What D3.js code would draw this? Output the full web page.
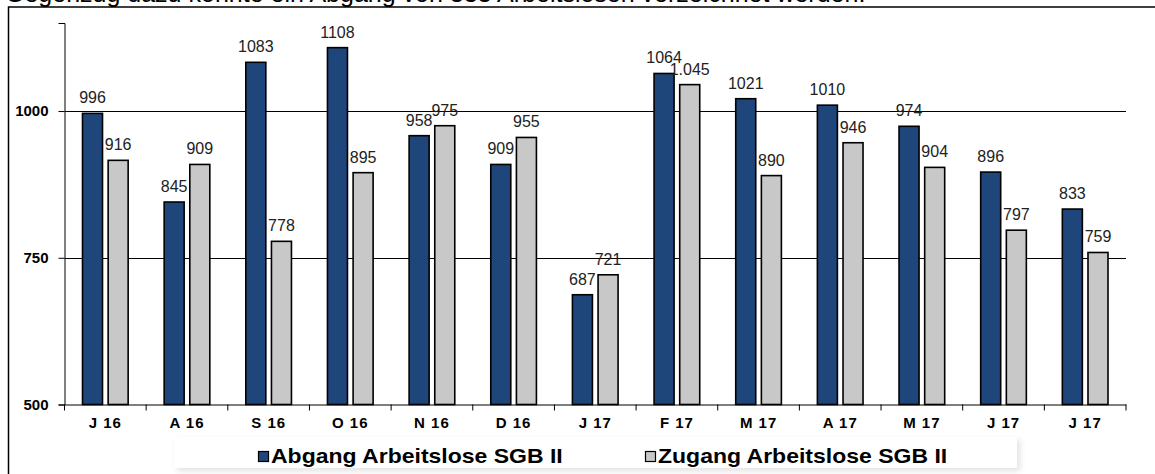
<!DOCTYPE html>
<html>
<head>
<meta charset="utf-8">
<script src="https://cdn.jsdelivr.net/npm/d3@7"></script>
<style>
  body { margin: 0; background: #fff; }
  svg { display: block; font-family: Arial, "Liberation Sans", sans-serif; }
</style>
</head>
<body>
<svg id="chart" width="1155" height="474"></svg>
<script>
// months Jul 16 .. Jul 17
const categories = ["J 16", "A 16", "S 16", "O 16", "N 16", "D 16", "J 17", "F 17", "M 17", "A 17", "M 17", "J 17", "J 17"];
const abgang = [996, 845, 1083, 1108, 958, 909, 687, 1064, 1021, 1010, 974, 896, 833];
const zugang = [916, 909, 778, 895, 975, 955, 721, 1045, 890, 946, 904, 797, 759];
const zugangLabels = ["916", "909", "778", "895", "975", "955", "721", "1.045", "890", "946", "904", "797", "759"];
const yTicks = [500, 750, 1000];
const seriesNames = ["Abgang Arbeitslose SGB II", "Zugang Arbeitslose SGB II"];
const headline = "Gegenzug dazu konnte ein Abgang von 333 Arbeitslosen verzeichnet werden.";

const blue = "#1f467b";
const grey = "#c8c8c8";
const font = "Arial, 'Liberation Sans', sans-serif";

const svg = d3.select("#chart");

// text cut at the top of the picture
svg.append("text")
  .attr("x", 5)
  .attr("y", 2)
  .attr("font-size", 25)
  .attr("fill", "#000")
  .text(headline);

// outer frame
svg.append("rect")
  .attr("x", 8.5).attr("y", 7)
  .attr("width", 1160).attr("height", 480)
  .attr("fill", "#fff")
  .attr("stroke", "#000")
  .attr("stroke-width", 1.5);

const x = d3.scaleBand()
  .domain(d3.range(categories.length))
  .range([64.5, 1126])
  .paddingInner(0).paddingOuter(0);

const inner = d3.scaleBand()
  .domain([0, 1])
  .range([18, x.bandwidth() - 18])
  .paddingInner(0.22);

const y = d3.scaleLinear()
  .domain([500, 1150])
  .range([404.5, 23]);

// gridlines
svg.append("g")
  .selectAll("line")
  .data(yTicks.slice(1))
  .join("line")
  .attr("x1", 64.5).attr("x2", 1126)
  .attr("y1", d => Math.round(y(d)) + 0.5)
  .attr("y2", d => Math.round(y(d)) + 0.5)
  .attr("stroke", "#000")
  .attr("stroke-width", 1);

// y axis
const yAxis = svg.append("g")
  .attr("transform", "translate(64.5,0)")
  .call(d3.axisLeft(y).tickValues(yTicks).tickFormat(d3.format("d")).tickSize(6).tickPadding(10));
yAxis.select(".domain").attr("stroke", "#000");
yAxis.selectAll("text")
  .attr("font-size", 15).attr("font-weight", "bold").attr("fill", "#000")
  .attr("font-family", font);

// bars
const groups = svg.append("g")
  .selectAll("g")
  .data(categories)
  .join("g")
  .attr("transform", (d, i) => "translate(" + x(i) + ",0)");

groups.append("rect")
  .attr("x", inner(0))
  .attr("y", (d, i) => y(abgang[i]))
  .attr("width", inner.bandwidth())
  .attr("height", (d, i) => y(500) - y(abgang[i]))
  .attr("fill", blue)
  .attr("stroke", "#000")
  .attr("stroke-width", 1.6);

groups.append("rect")
  .attr("x", inner(1))
  .attr("y", (d, i) => y(zugang[i]))
  .attr("width", inner.bandwidth())
  .attr("height", (d, i) => y(500) - y(zugang[i]))
  .attr("fill", grey)
  .attr("stroke", "#000")
  .attr("stroke-width", 1.6);

// value labels
groups.append("text")
  .attr("x", inner(0) + inner.bandwidth() / 2)
  .attr("y", (d, i) => y(abgang[i]) - 10)
  .attr("text-anchor", "middle")
  .attr("font-size", 16).attr("fill", "#222")
  .text((d, i) => abgang[i]);

groups.append("text")
  .attr("x", inner(1) + inner.bandwidth() / 2)
  .attr("y", (d, i) => y(zugang[i]) - 10)
  .attr("text-anchor", "middle")
  .attr("font-size", 16).attr("fill", "#222")
  .text((d, i) => zugangLabels[i]);

// x axis
const xAxis = svg.append("g")
  .attr("transform", "translate(0," + y(500) + ")")
  .call(d3.axisBottom(x).tickSize(0).tickPadding(13).tickFormat(i => categories[i]));
xAxis.select(".domain").attr("stroke", "#000");
xAxis.selectAll("text")
  .attr("font-size", 15).attr("font-weight", "bold").attr("fill", "#000")
  .attr("letter-spacing", 1)
  .attr("font-family", font);

// small ticks between the months
svg.append("g")
  .selectAll("line")
  .data(d3.range(categories.length + 1))
  .join("line")
  .attr("x1", i => x.range()[0] + i * x.step())
  .attr("x2", i => x.range()[0] + i * x.step())
  .attr("y1", y(500)).attr("y2", y(500) + 6)
  .attr("stroke", "#000");

// legend
const defs = svg.append("defs");
const f = defs.append("filter").attr("id", "shadow")
  .attr("x", "-5%").attr("y", "-20%").attr("width", "110%").attr("height", "150%");
f.append("feGaussianBlur").attr("in", "SourceAlpha").attr("stdDeviation", 3);
f.append("feOffset").attr("dx", 3).attr("dy", 3).attr("result", "b");
f.append("feComponentTransfer").append("feFuncA").attr("type", "linear").attr("slope", 0.12);
const m = f.append("feMerge");
m.append("feMergeNode");
m.append("feMergeNode").attr("in", "SourceGraphic");

svg.append("rect")
  .attr("x", 174).attr("y", 437)
  .attr("width", 843).attr("height", 31)
  .attr("fill", "#fff")
  .attr("filter", "url(#shadow)");

const legendX = [258, 645];
const legend = svg.append("g")
  .selectAll("g")
  .data(seriesNames)
  .join("g")
  .attr("transform", (d, i) => "translate(" + legendX[i] + ",450)");
legend.append("rect")
  .attr("x", 0.5).attr("y", 1.5)
  .attr("width", 10).attr("height", 10)
  .attr("fill", (d, i) => i === 0 ? blue : grey)
  .attr("stroke", "#000").attr("stroke-width", 1.2);
legend.append("text")
  .attr("transform", "translate(13,13) scale(1.15,1)")
  .attr("font-size", 20).attr("font-weight", "bold").attr("fill", "#000")
  .text(d => d);
</script>
</body>
</html>
